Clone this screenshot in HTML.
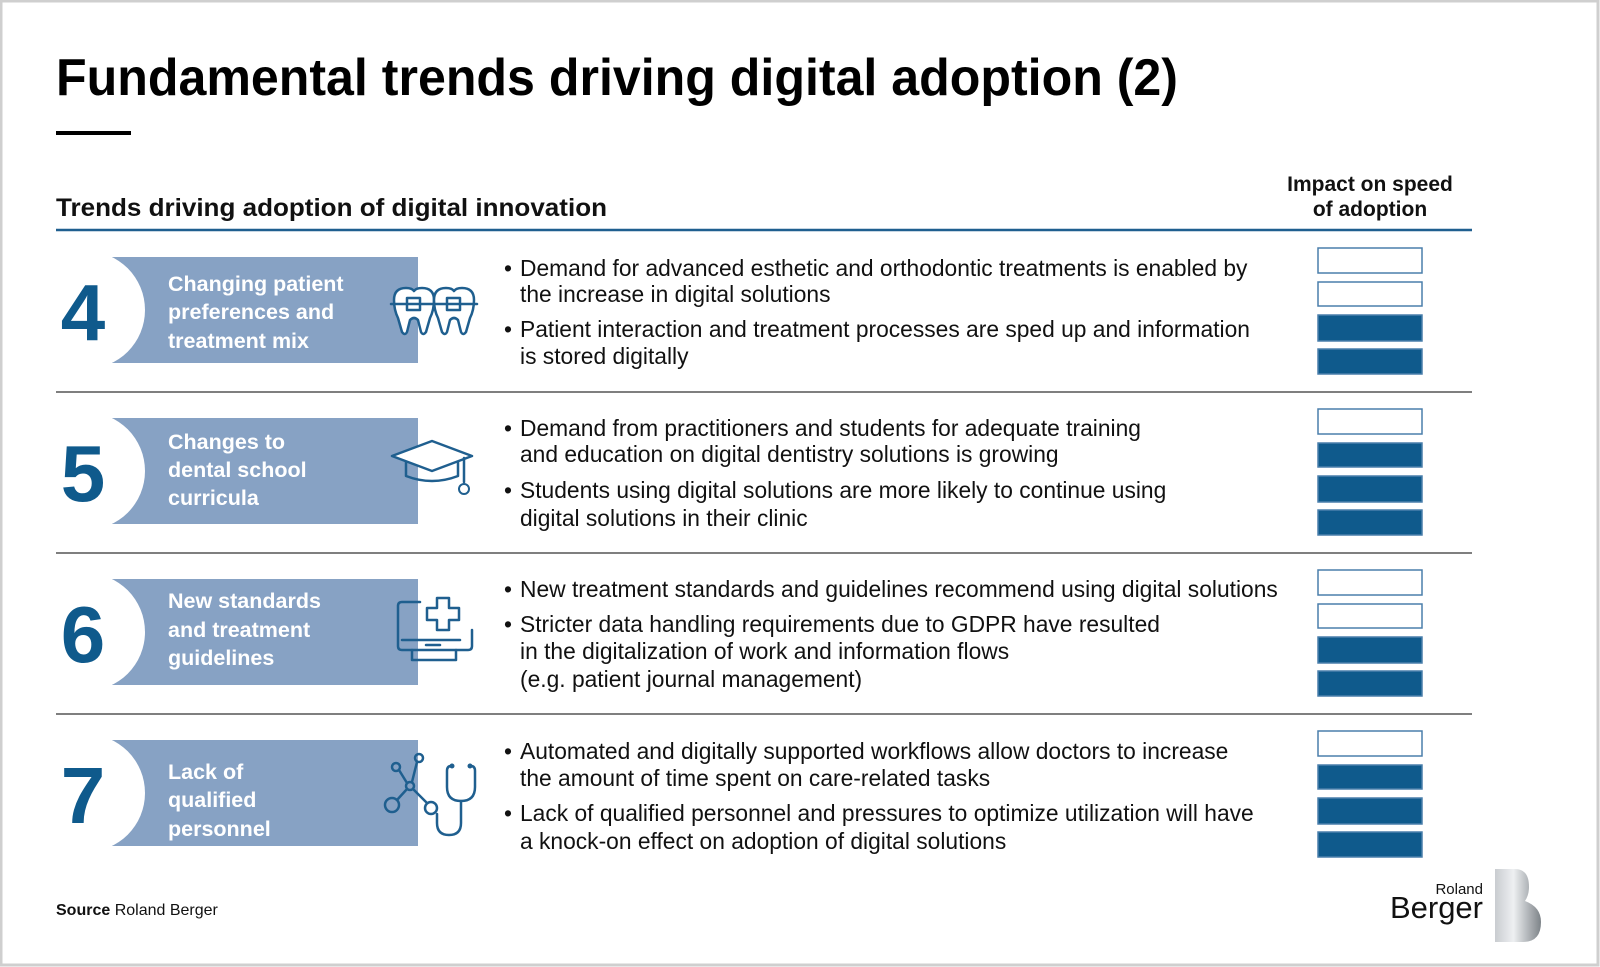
<!DOCTYPE html>
<html><head><meta charset="utf-8"><style>html,body{margin:0;padding:0;background:#fff}svg{display:block}</style></head>
<body>
<svg width="1600" height="967" viewBox="0 0 1600 967" xmlns="http://www.w3.org/2000/svg" font-family="Liberation Sans, sans-serif">
<rect x="1" y="1" width="1597" height="964" fill="#fff" stroke="#cfcfcf" stroke-width="3"/>
<text x="56" y="95" font-size="52" font-weight="bold" fill="#000" textLength="1122" lengthAdjust="spacingAndGlyphs">Fundamental trends driving digital adoption (2)</text>
<rect x="56" y="131" width="75" height="4" fill="#000"/>
<text x="56" y="216" font-size="25" font-weight="bold" fill="#111" textLength="551" lengthAdjust="spacingAndGlyphs">Trends driving adoption of digital innovation</text>
<text x="1370" y="191" font-size="21" font-weight="bold" text-anchor="middle" fill="#111">Impact on speed</text>
<text x="1370" y="216" font-size="21" font-weight="bold" text-anchor="middle" fill="#111">of adoption</text>
<line x1="56" y1="230" x2="1472" y2="230" stroke="#1f5f8f" stroke-width="2.5"/>
<g stroke="#333" stroke-width="1.2"><line x1="56" y1="392" x2="1472" y2="392"/><line x1="56" y1="553" x2="1472" y2="553"/><line x1="56" y1="714" x2="1472" y2="714"/></g>

<g fill="#87a2c4">
<rect x="112" y="257" width="306" height="106"/>
<rect x="112" y="418" width="306" height="106"/>
<rect x="112" y="579" width="306" height="106"/>
<rect x="112" y="740" width="306" height="106"/>
</g>
<g fill="#fff">
<circle cx="86" cy="310" r="59"/><circle cx="86" cy="471" r="59"/><circle cx="86" cy="632" r="59"/><circle cx="86" cy="793" r="59"/>
</g>
<g font-size="80" font-weight="bold" fill="#0f5a8c" text-anchor="middle">
<text x="83" y="340">4</text><text x="83" y="501">5</text><text x="83" y="662">6</text><text x="83" y="823">7</text>
</g>
<g font-size="21.5" font-weight="bold" fill="#fff">
<text x="168" y="291">Changing patient</text><text x="168" y="319">preferences and</text><text x="168" y="348">treatment mix</text>
<text x="168" y="449">Changes to</text><text x="168" y="477">dental school</text><text x="168" y="505">curricula</text>
<text x="168" y="608">New standards</text><text x="168" y="637">and treatment</text><text x="168" y="665">guidelines</text>
<text x="168" y="779">Lack of</text><text x="168" y="807">qualified</text><text x="168" y="836">personnel</text>
</g>

<g fill="none" stroke="#1f5f8f" stroke-width="2.5" stroke-linecap="round" stroke-linejoin="round">
<path d="M394 300 q0-12 12-12 q6 0 8 3 q2-3 8-3 q12 0 12 12 q0 10-4 18 l-4 14 q-3 4-5 0 l-3-12 q-4-4-8 0 l-3 12 q-2 4-5 0 l-4-14 q-4-8-4-18z" fill="#fff"/>
<path d="M434 300 q0-12 12-12 q6 0 8 3 q2-3 8-3 q12 0 12 12 q0 10-4 18 l-4 14 q-3 4-5 0 l-3-12 q-4-4-8 0 l-3 12 q-2 4-5 0 l-4-14 q-4-8-4-18z" fill="#fff"/>
<line x1="391" y1="304" x2="477" y2="304"/>
<rect x="407" y="298" width="13" height="12"/><rect x="447" y="298" width="13" height="12"/>
<path d="M392 456 l40-15 l40 15 l-40 15z" fill="#fff"/>
<path d="M406 462 v14 q26 10 52 0 v-14"/>
<line x1="464" y1="458" x2="464" y2="482"/>
<circle cx="464" cy="489" r="5" stroke-width="2"/>
<path d="M420 602 h-18 q-4 0-4 4 v40 q0 4 4 4 h66 q4 0 4-4 v-16"/>
<line x1="402" y1="640" x2="460" y2="640"/><line x1="426" y1="645" x2="440" y2="645"/>
<path d="M412 650 v10 h44 v-10"/>
<path d="M437 598 h12 v10 h10 v12 h-10 v10 h-12 v-10 h-10 v-12 h10z"/>
<circle cx="392" cy="805" r="7"/><circle cx="396" cy="767" r="4"/><circle cx="419" cy="758" r="4"/><circle cx="410" cy="786" r="4"/><circle cx="431" cy="808" r="6"/>
<line x1="397" y1="800" x2="407" y2="789"/><line x1="399" y1="770" x2="407" y2="783"/><line x1="417" y1="762" x2="412" y2="782"/><line x1="413" y1="789" x2="427" y2="803"/>
<path d="M451 766 q-4 0-4 5 v16 q0 14 14 14 q14 0 14-14 v-16 q0-5-4-5"/>
<path d="M461 801 v22 q0 12-12 12 q-12 0-12-12 v-9"/>
</g>
<g fill="#1f5f8f"><circle cx="452" cy="766" r="2.5"/><circle cx="470" cy="766" r="2.5"/></g>

<g font-size="22.8" fill="#111">
<text x="504" y="276">•</text><text x="520" y="276">Demand for advanced esthetic and orthodontic treatments is enabled by</text>
<text x="520" y="302">the increase in digital solutions</text>
<text x="504" y="337">•</text><text x="520" y="337">Patient interaction and treatment processes are sped up and information</text>
<text x="520" y="364">is stored digitally</text>
<text x="504" y="436">•</text><text x="520" y="436">Demand from practitioners and students for adequate training</text>
<text x="520" y="462">and education on digital dentistry solutions is growing</text>
<text x="504" y="498">•</text><text x="520" y="498">Students using digital solutions are more likely to continue using</text>
<text x="520" y="526">digital solutions in their clinic</text>
<text x="504" y="597">•</text><text x="520" y="597">New treatment standards and guidelines recommend using digital solutions</text>
<text x="504" y="632">•</text><text x="520" y="632">Stricter data handling requirements due to GDPR have resulted</text>
<text x="520" y="659">in the digitalization of work and information flows</text>
<text x="520" y="687">(e.g. patient journal management)</text>
<text x="504" y="759">•</text><text x="520" y="759">Automated and digitally supported workflows allow doctors to increase</text>
<text x="520" y="786">the amount of time spent on care-related tasks</text>
<text x="504" y="821">•</text><text x="520" y="821">Lack of qualified personnel and pressures to optimize utilization will have</text>
<text x="520" y="849">a knock-on effect on adoption of digital solutions</text>
</g>

<g stroke="#4a7fab" stroke-width="1.5">
<rect x="1318" y="248" width="104" height="25" fill="#fff"/><rect x="1318" y="282" width="104" height="24" fill="#fff"/>
<rect x="1318" y="315" width="104" height="26" fill="#0f5a8c"/><rect x="1318" y="349" width="104" height="25" fill="#0f5a8c"/>
<rect x="1318" y="409" width="104" height="25" fill="#fff"/><rect x="1318" y="443" width="104" height="24" fill="#0f5a8c"/>
<rect x="1318" y="476" width="104" height="26" fill="#0f5a8c"/><rect x="1318" y="510" width="104" height="25" fill="#0f5a8c"/>
<rect x="1318" y="570" width="104" height="25" fill="#fff"/><rect x="1318" y="604" width="104" height="24" fill="#fff"/>
<rect x="1318" y="637" width="104" height="26" fill="#0f5a8c"/><rect x="1318" y="671" width="104" height="25" fill="#0f5a8c"/>
<rect x="1318" y="731" width="104" height="25" fill="#fff"/><rect x="1318" y="765" width="104" height="24" fill="#0f5a8c"/>
<rect x="1318" y="798" width="104" height="26" fill="#0f5a8c"/><rect x="1318" y="832" width="104" height="25" fill="#0f5a8c"/>
</g>

<text x="56" y="915" font-size="16" fill="#111"><tspan font-weight="bold">Source</tspan> Roland Berger</text>

<defs><linearGradient id="g" x1="0" x2="1" y1="0" y2="0"><stop offset="0" stop-color="#c9ccd0"/><stop offset="0.4" stop-color="#eef0f2"/><stop offset="1" stop-color="#7d8388"/></linearGradient></defs>
<text x="1483" y="894" font-size="15" text-anchor="end" fill="#111">Roland</text>
<text x="1483" y="918" font-size="31" text-anchor="end" fill="#111">Berger</text>
<path d="M1495 869 h20 q14 0 14 18 q0 8-4 14 q16 6 16 21 q0 20-18 20 h-28z" fill="url(#g)"/>
</svg>
</body></html>
